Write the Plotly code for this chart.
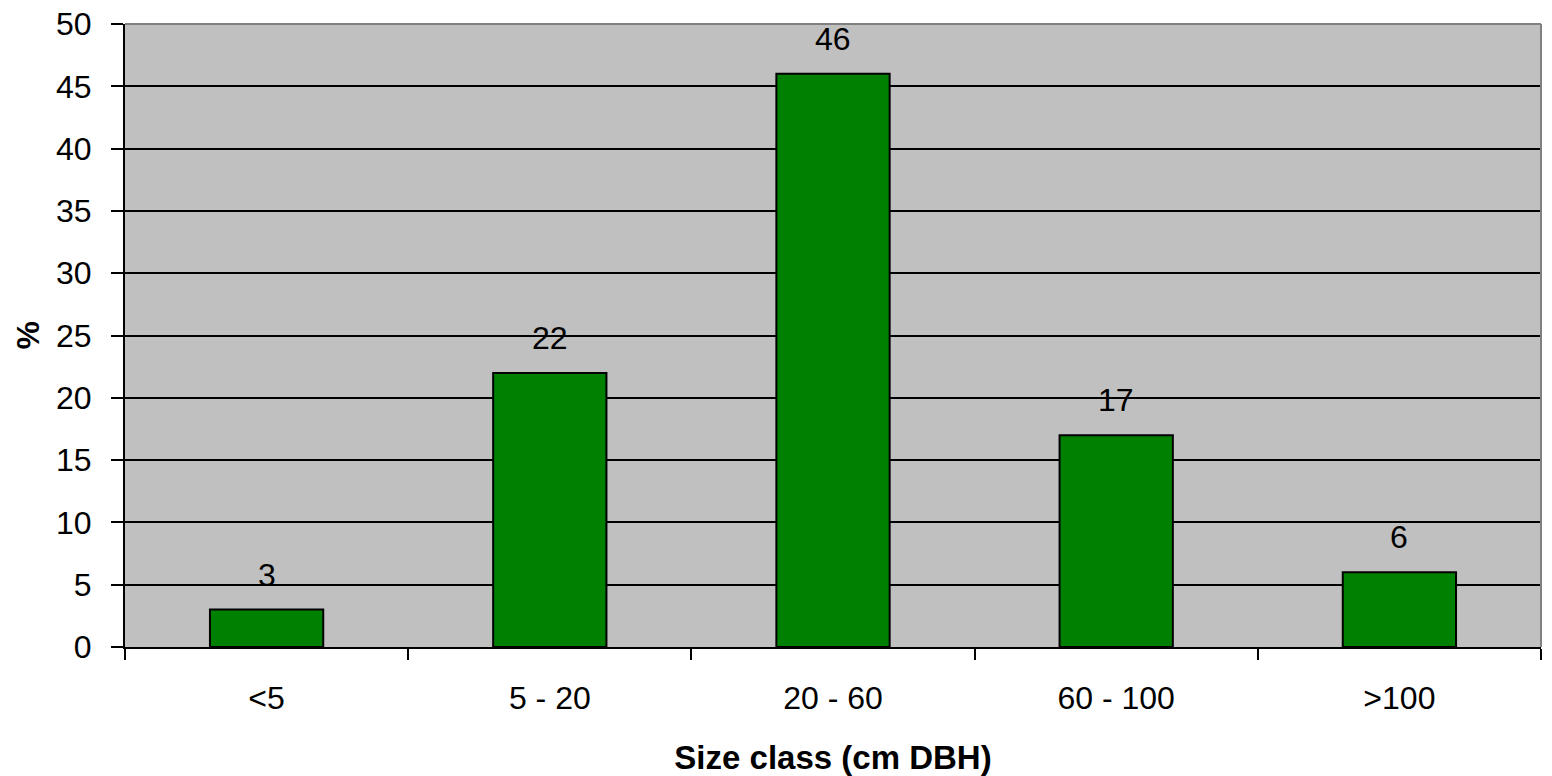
import plotly.graph_objects as go

# Size class distribution of stems (% of total)
size_classes = ["<5", "5 - 20", "20 - 60", "60 - 100", ">100"]
percent = [3, 22, 46, 17, 6]

FONT = "Liberation Sans, Arial, sans-serif"
FS = 32

fig = go.Figure()
fig.add_trace(go.Bar(
    x=size_classes,
    y=percent,
    width=0.4,
    marker=dict(color="#008000", line=dict(color="black", width=2)),
    hoverinfo="x+y",
))

# value labels floating above each bar
for cat, val in zip(size_classes, percent):
    fig.add_annotation(
        x=cat, y=val, text=str(val), showarrow=False,
        yanchor="middle", yshift=35,
        font=dict(family=FONT, size=FS, color="black"),
    )

# y-axis title, placed as a rotated annotation left of the tick labels
fig.add_annotation(
    xref="paper", yref="paper", x=0, y=0.5,
    xanchor="center", yanchor="middle", xshift=-98,
    text="<b>%</b>", textangle=-90, showarrow=False,
    font=dict(family=FONT, size=FS, color="black"),
)

# light gray frame on the top and right edges of the plot area
fig.add_shape(type="line", xref="paper", yref="paper", x0=0, x1=1, y0=1, y1=1,
              line=dict(color="#808080", width=2), layer="above")
fig.add_shape(type="line", xref="paper", yref="paper", x0=1, x1=1, y0=0, y1=1,
              line=dict(color="#808080", width=2), layer="above")

fig.update_layout(
    width=1552, height=776,
    margin=dict(l=125, r=11, t=24, b=129),
    paper_bgcolor="white",
    plot_bgcolor="#C0C0C0",
    showlegend=False,
    bargap=0.6,
    font=dict(family=FONT, size=FS, color="black"),
    xaxis=dict(
        type="category",
        automargin=False,
        showline=True, linecolor="black", linewidth=2,
        ticks="outside", ticklen=11, tickwidth=2, tickcolor="black",
        tickson="boundaries",
        ticklabelstandoff=22,
        showgrid=False,
        tickfont=dict(family=FONT, size=FS),
        title=dict(text="<b>Size class (cm DBH)</b>", font=dict(family=FONT, size=33), standoff=30),
    ),
    yaxis=dict(
        range=[0, 50], dtick=5,
        automargin=False,
        showline=True, linecolor="black", linewidth=2,
        ticks="outside", ticklen=12, tickwidth=2, tickcolor="black",
        ticklabelstandoff=13,
        showgrid=True, gridcolor="black", gridwidth=2,
        zeroline=False,
        tickfont=dict(family=FONT, size=FS),
    ),
)

fig.write_html("out.html")
